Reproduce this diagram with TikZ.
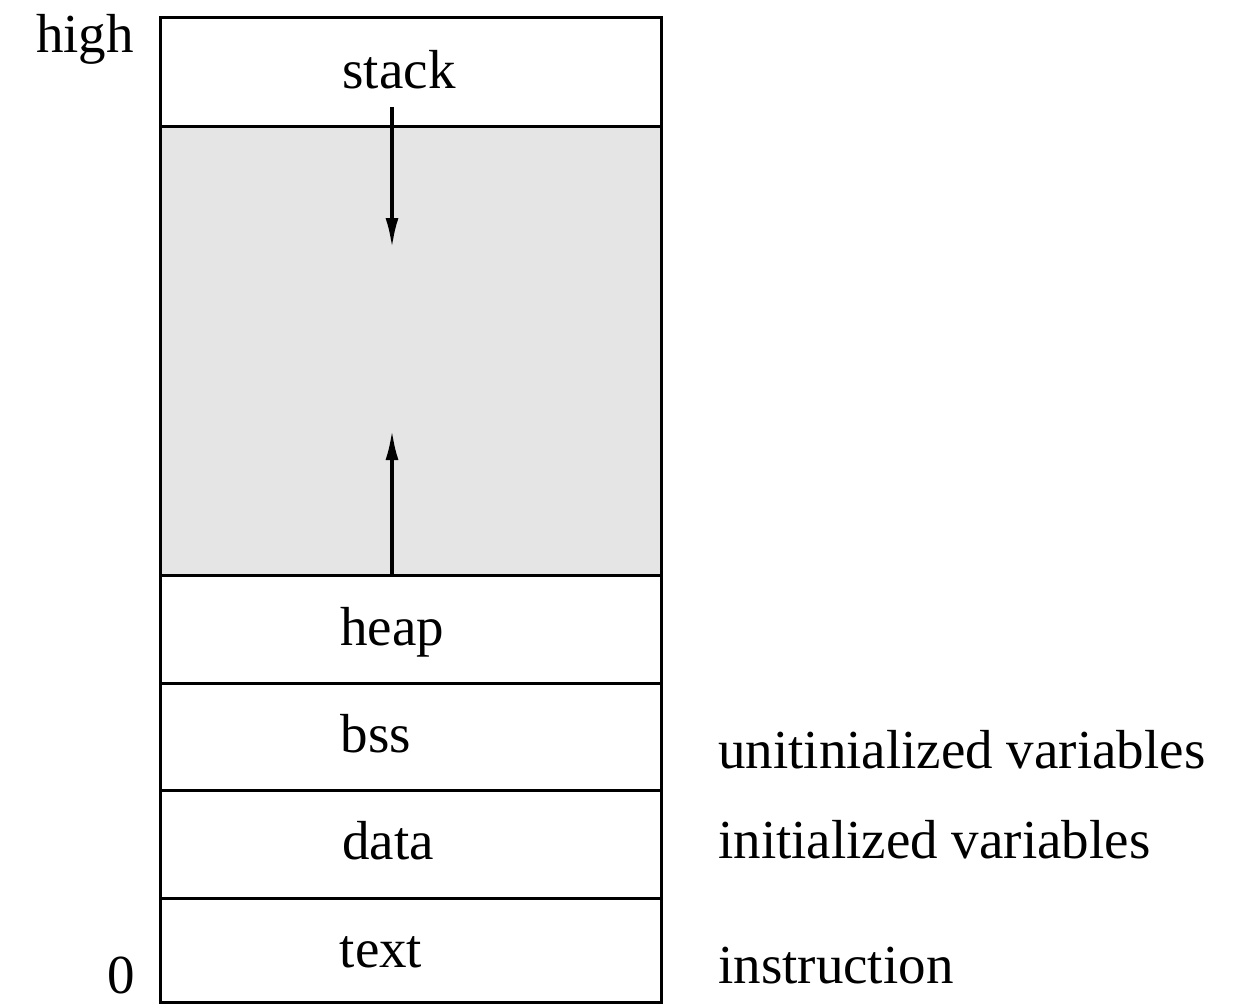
\documentclass[tikz,border=0pt]{standalone}
\usepackage{fontspec}
\setmainfont{Liberation Serif}
\usetikzlibrary{arrows.meta}
\begin{document}
\begin{tikzpicture}[x=1pt,y=-1pt,
  lbl/.style={font=\fontsize{55}{60}\selectfont, inner sep=0pt, anchor=base},
  rlbl/.style={lbl, anchor=base west},
  segline/.style={line width=3pt},
  growarrow/.style={line width=3.5pt, -{Latex[length=30pt,width=13pt]}}]
\useasboundingbox (0,0) rectangle (1238,1005);
\fill[black!10] (160,126) rectangle (661,575);
\draw[segline] (160,17) rectangle (661,1002);
\foreach \yy in {126,575,683,790,898} \draw[segline] (160,\yy) -- (661,\yy);
\coordinate (sA) at (392,107);
\coordinate (sB) at (392,248);
\coordinate (hA) at (392,575);
\coordinate (hB) at (392,430);
\draw[growarrow] (sA) -- (sB);
\draw[growarrow] (hA) -- (hB);
\node[lbl] (high) at (85,52) {high};
\node[lbl] (zero) at (121,993) {0};
\node[lbl] (stack) at (399,88) {stack};
\node[lbl] (heap) at (392,645) {heap};
\node[lbl] (bss) at (376,752) {bss};
\node[lbl] (data) at (388,859) {data};
\node[lbl] (text) at (381,967) {text};
\node[rlbl] (uninit) at (718,768) {unitinialized variables};
\node[rlbl] (init) at (718,858) {initialized variables};
\node[rlbl] (instr) at (718,983) {instruction};
\end{tikzpicture}
\end{document}
